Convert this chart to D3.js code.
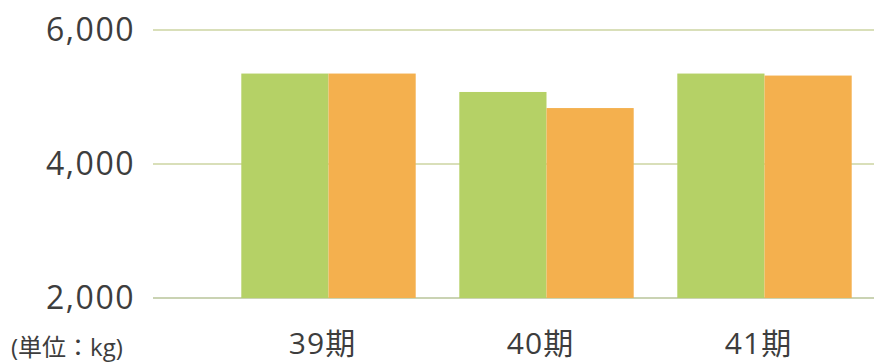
<!DOCTYPE html>
<html>
<head>
<meta charset="utf-8">
<script src="https://cdn.jsdelivr.net/npm/d3@7"></script>
<style>
  body { margin: 0; background: #fff; }
  text { font-family: "Open Sans", "Noto Sans CJK JP", sans-serif; fill: #3d3d3d; }
</style>
</head>
<body>
<div class="chart"></div>
<script>
// dati
const periods = ['39期', '40期', '41期'];
const seriesA = [5350, 5075, 5350];   // verde
const seriesB = [5350, 4835, 5320];   // arancione
const yTicks = [2000, 4000, 6000];
const unitLabel = '(単位：kg)';

const width = 874;
const height = 364;

const svg = d3.select('.chart')
    .append('svg')
    .attr('width', width)
    .attr('height', height);

// scale
const y = d3.scaleLinear()
    .domain([2000, 6000])
    .range([298, 30]);

const x = d3.scaleBand()
    .domain(periods)
    .range([219.5, 873.5])
    .paddingInner(0.2)
    .paddingOuter(0.1);

const xSub = d3.scaleBand()
    .domain(['a', 'b'])
    .range([0, x.bandwidth()]);

// griglia
svg.append('g')
    .selectAll('line')
    .data(yTicks)
    .join('line')
    .attr('x1', 153)
    .attr('x2', width)
    .attr('y1', d => y(d))
    .attr('y2', d => y(d))
    .attr('stroke', d => d === 2000 ? '#b9c49a' : '#cdd4a2')
    .attr('stroke-width', 1.5);

// etichette asse y
svg.append('g')
    .selectAll('text')
    .data(yTicks)
    .join('text')
    .attr('x', 135)
    .attr('y', d => y(d) + 11)
    .attr('text-anchor', 'end')
    .attr('font-size', 32)
    .attr('letter-spacing', 1.5)
    .text(d => d3.format(',')(d));

// barre
const groups = svg.append('g')
    .selectAll('g')
    .data(periods)
    .join('g')
    .attr('transform', d => `translate(${x(d)},0)`);

groups.append('rect')
    .attr('x', xSub('a'))
    .attr('width', xSub.bandwidth())
    .attr('y', (d, i) => y(seriesA[i]))
    .attr('height', (d, i) => y(2000) - y(seriesA[i]))
    .attr('fill', '#b5d166');

groups.append('rect')
    .attr('x', xSub('b'))
    .attr('width', xSub.bandwidth())
    .attr('y', (d, i) => y(seriesB[i]))
    .attr('height', (d, i) => y(2000) - y(seriesB[i]))
    .attr('fill', '#f4b04e');

// etichette asse x
svg.append('g')
    .selectAll('text')
    .data(periods)
    .join('text')
    .attr('x', d => x(d) + x.bandwidth() / 2 - 6)
    .attr('y', 354)
    .attr('text-anchor', 'middle')
    .attr('font-size', 30)
    .attr('letter-spacing', 1)
    .attr('font-family', '"Noto Sans CJK JP", sans-serif')
    .text(d => d);

// unità
svg.append('text')
    .attr('x', 11)
    .attr('y', 356)
    .attr('font-size', 24)
    .attr('font-family', '"Noto Sans CJK JP", sans-serif')
    .text(unitLabel);
</script>
</body>
</html>
